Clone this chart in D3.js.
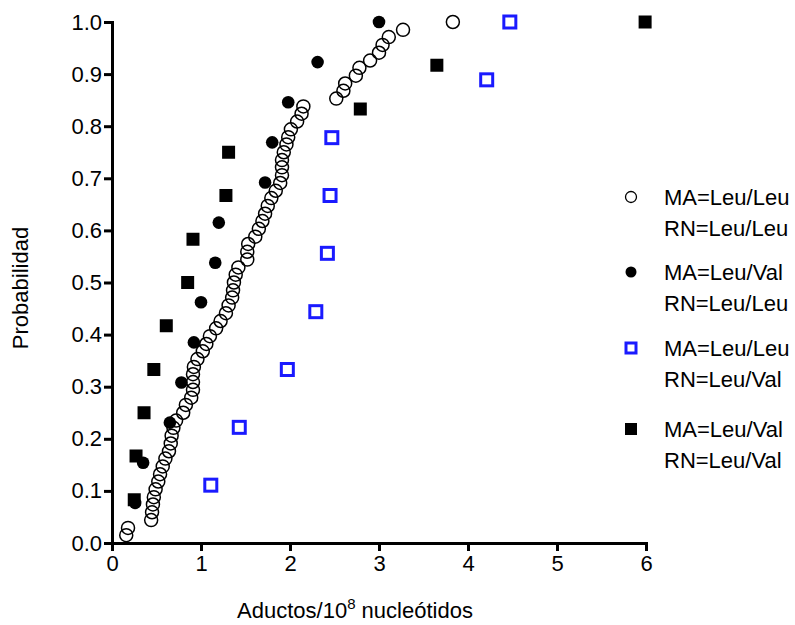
<!DOCTYPE html>
<html>
<head>
<meta charset="utf-8">
<script src="https://cdn.jsdelivr.net/npm/d3@7"></script>
<style>
  body { margin: 0; background: #fff; }
  text { font-family: "Liberation Sans", Arial, sans-serif; }
</style>
</head>
<body>
<div class="myChart"></div>
<script>
// MA=Leu/Leu RN=Leu/Leu (open circles)
var llX = [0.16, 0.18, 0.44, 0.45, 0.46, 0.47, 0.49, 0.52, 0.54, 0.57, 0.60, 0.64, 0.66, 0.67, 0.69, 0.72, 0.80,
           0.83, 0.89, 0.91, 0.91, 0.91, 0.92, 0.96, 1.02, 1.06, 1.10, 1.17, 1.22, 1.28, 1.31, 1.35, 1.36, 1.37,
           1.39, 1.42, 1.52, 1.52, 1.53, 1.61, 1.65, 1.69, 1.72, 1.75, 1.79, 1.84, 1.89, 1.91, 1.91, 1.91, 1.93,
           1.96, 1.98, 2.01, 2.08, 2.13, 2.15, 2.52, 2.60, 2.62, 2.74, 2.78, 2.90, 3.00, 3.04, 3.11, 3.27, 3.83];
var llY = [0.015, 0.029, 0.044, 0.059, 0.074, 0.088, 0.103, 0.118, 0.132, 0.147, 0.162, 0.176, 0.191, 0.206, 0.221,
           0.235, 0.250, 0.265, 0.279, 0.294, 0.309, 0.324, 0.338, 0.353, 0.368, 0.382, 0.397, 0.412, 0.426, 0.441,
           0.456, 0.471, 0.485, 0.500, 0.515, 0.529, 0.544, 0.559, 0.574, 0.588, 0.603, 0.618, 0.632, 0.647, 0.662,
           0.676, 0.691, 0.706, 0.721, 0.735, 0.750, 0.765, 0.779, 0.794, 0.809, 0.824, 0.838, 0.853, 0.868, 0.882,
           0.897, 0.912, 0.926, 0.941, 0.956, 0.971, 0.985, 1.000];

// MA=Leu/Val RN=Leu/Leu (filled circles)
var vlX = [0.26, 0.35, 0.65, 0.78, 0.92, 1.00, 1.16, 1.20, 1.72, 1.80, 1.98, 2.31, 3.00];
var vlY = [0.077, 0.154, 0.231, 0.308, 0.385, 0.462, 0.538, 0.615, 0.692, 0.769, 0.846, 0.923, 1.000];

// MA=Leu/Leu RN=Leu/Val (blue open squares)
var lvX = [1.11, 1.43, 1.97, 2.29, 2.42, 2.45, 2.47, 4.21, 4.47];
var lvY = [0.111, 0.222, 0.333, 0.444, 0.556, 0.667, 0.778, 0.889, 1.000];

// MA=Leu/Val RN=Leu/Val (filled squares)
var vvX = [0.25, 0.27, 0.36, 0.47, 0.61, 0.85, 0.91, 1.28, 1.31, 2.79, 3.65, 5.99];
var vvY = [0.083, 0.167, 0.250, 0.333, 0.417, 0.500, 0.583, 0.667, 0.750, 0.833, 0.917, 1.000];

var xTicks = [0, 1, 2, 3, 4, 5, 6];
var yTicks = [0, 0.1, 0.2, 0.3, 0.4, 0.5, 0.6, 0.7, 0.8, 0.9, 1.0];

var legendLabels = [
    ['MA=Leu/Leu', 'RN=Leu/Leu'],
    ['MA=Leu/Val', 'RN=Leu/Leu'],
    ['MA=Leu/Leu', 'RN=Leu/Val'],
    ['MA=Leu/Val', 'RN=Leu/Val']
];

var w = 795, h = 625;
var fs = '22px';
var x = d3.scaleLinear().domain([0, 6]).range([112, 646]);
var y = d3.scaleLinear().domain([0, 1]).range([543, 22]);

var svg = d3.select('.myChart').append('svg')
    .attr('width', w)
    .attr('height', h);

function pairs(xs, ys) {
    return xs.map(function (d, i) { return { x: d, y: ys[i] }; });
}

// open circles
svg.append('g').selectAll('circle')
    .data(pairs(llX, llY))
    .enter().append('circle')
    .attr('cx', function (d) { return x(d.x); })
    .attr('cy', function (d) { return y(d.y); })
    .attr('r', 6.5)
    .attr('fill', 'none')
    .attr('stroke', '#000')
    .attr('stroke-width', 1.5);

// filled circles
svg.append('g').selectAll('circle')
    .data(pairs(vlX, vlY))
    .enter().append('circle')
    .attr('cx', function (d) { return x(d.x); })
    .attr('cy', function (d) { return y(d.y); })
    .attr('r', 6.3)
    .attr('fill', '#000');

// blue open squares
svg.append('g').selectAll('rect')
    .data(pairs(lvX, lvY))
    .enter().append('rect')
    .attr('x', function (d) { return x(d.x) - 6; })
    .attr('y', function (d) { return y(d.y) - 6; })
    .attr('width', 12)
    .attr('height', 12)
    .attr('fill', 'none')
    .attr('stroke', '#1a1aff')
    .attr('stroke-width', 3);

// filled squares
svg.append('g').selectAll('rect')
    .data(pairs(vvX, vvY))
    .enter().append('rect')
    .attr('x', function (d) { return x(d.x) - 6.5; })
    .attr('y', function (d) { return y(d.y) - 6.5; })
    .attr('width', 13)
    .attr('height', 13)
    .attr('fill', '#000');

// axes
var xAxis = svg.append('g')
    .attr('transform', 'translate(0,543)')
    .call(d3.axisBottom(x).tickValues(xTicks).tickFormat(d3.format('d')).tickSizeOuter(0).tickSize(8));
var yAxis = svg.append('g')
    .attr('transform', 'translate(112,0)')
    .call(d3.axisLeft(y).tickValues(yTicks).tickFormat(d3.format('.1f')).tickSizeOuter(0).tickSize(8));

[xAxis, yAxis].forEach(function (a) {
    a.select('.domain').attr('stroke', '#000').attr('stroke-width', 3);
    a.selectAll('.tick line').attr('stroke', '#000').attr('stroke-width', 3);
    a.selectAll('.tick text')
        .attr('font-family', '"Liberation Sans", Arial, sans-serif')
        .attr('font-size', fs)
        .attr('fill', '#000');
});
xAxis.selectAll('.tick text').attr('y', 10).attr('dy', '0.8em');
yAxis.selectAll('.tick text').attr('x', -10);

// axis titles
var xt = svg.append('text')
    .attr('x', 355)
    .attr('y', 618)
    .attr('text-anchor', 'middle')
    .attr('font-size', fs)
    .attr('fill', '#000');
xt.append('tspan').text('Aductos/10');
xt.append('tspan').attr('dy', -9).attr('font-size', '15px').text('8');
xt.append('tspan').attr('dy', 9).text(' nucleótidos');

svg.append('text')
    .attr('transform', 'translate(28,288) rotate(-90)')
    .attr('text-anchor', 'middle')
    .attr('font-size', fs)
    .attr('fill', '#000')
    .text('Probabilidad');

// legend
var legendRows = [197, 272, 348, 429];
var legend = svg.append('g').selectAll('g')
    .data(legendLabels)
    .enter().append('g')
    .attr('transform', function (d, i) { return 'translate(0,' + legendRows[i] + ')'; });

legend.each(function (d, i) {
    var g = d3.select(this);
    if (i === 0) {
        g.append('circle').attr('cx', 631).attr('cy', 0).attr('r', 5.5)
            .attr('fill', 'none').attr('stroke', '#000').attr('stroke-width', 1.3);
    } else if (i === 1) {
        g.append('circle').attr('cx', 631).attr('cy', 0).attr('r', 5.5).attr('fill', '#000');
    } else if (i === 2) {
        g.append('rect').attr('x', 626).attr('y', -5).attr('width', 10).attr('height', 10)
            .attr('fill', 'none').attr('stroke', '#1a1aff').attr('stroke-width', 3);
    } else {
        g.append('rect').attr('x', 625).attr('y', -6).attr('width', 12).attr('height', 12).attr('fill', '#000');
    }
    g.append('text').attr('x', 664).attr('y', 8).attr('font-size', fs).attr('fill', '#000').text(d[0]);
    g.append('text').attr('x', 664).attr('y', 39).attr('font-size', fs).attr('fill', '#000').text(d[1]);
});
</script>
</body>
</html>
